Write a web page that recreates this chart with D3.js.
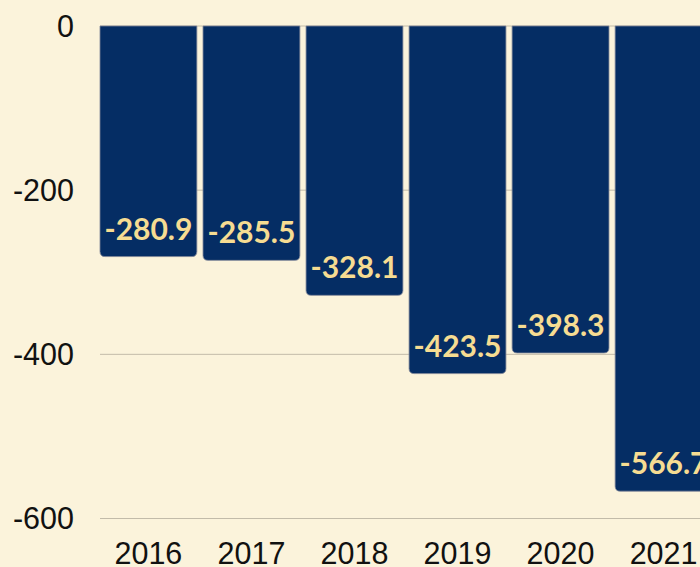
<!DOCTYPE html>
<html lang="en">
<head>
    <meta charset="UTF-8">
    <title>Bar chart</title>
    <script src="https://cdn.jsdelivr.net/npm/d3@7"></script>
    <style>
        html, body { margin: 0; padding: 0; background: #FBF3DB; overflow: hidden; }
        #chart svg { display: block; }
    </style>
</head>
<body>
    <div id="chart"></div>
    <script>
        // data
        const years = ["2016", "2017", "2018", "2019", "2020", "2021"];
        const values = [-280.9, -285.5, -328.1, -423.5, -398.3, -566.7];
        const yTicks = [0, -200, -400, -600];

        const width = 700, height = 567;

        const svg = d3.select("#chart")
            .append("svg")
            .attr("width", width)
            .attr("height", height);

        svg.append("rect")
            .attr("width", width)
            .attr("height", height)
            .attr("fill", "#FBF3DB");

        const x = d3.scaleBand()
            .domain(years)
            .range([100, 712])
            .paddingInner(0.06)
            .paddingOuter(0);

        const y = d3.scaleLinear()
            .domain([-600, 0])
            .range([518.5, 26]);

        // gridlines
        svg.selectAll("line.grid")
            .data(yTicks)
            .enter()
            .append("line")
            .attr("class", "grid")
            .attr("x1", 100)
            .attr("x2", width)
            .attr("y1", d => y(d))
            .attr("y2", d => y(d))
            .attr("stroke", "#C2BBA9")
            .attr("stroke-width", 1);

        // y tick labels
        svg.selectAll("text.ytick")
            .data(yTicks)
            .enter()
            .append("text")
            .attr("class", "ytick")
            .attr("x", 74)
            .attr("y", d => y(d))
            .attr("dy", "0.36em")
            .attr("text-anchor", "end")
            .style("font-family", "'Liberation Sans', Arial, sans-serif")
            .style("font-size", "30.5px")
            .attr("fill", "#111")
            .text(d => d);

        // bars with rounded bottom corners
        const r = 5;
        function barPath(d, i) {
            const x0 = x(years[i]), x1 = x0 + x.bandwidth();
            const top = y(0), bot = y(d);
            return `M${x0},${top}H${x1}V${bot - r}Q${x1},${bot} ${x1 - r},${bot}` +
                   `H${x0 + r}Q${x0},${bot} ${x0},${bot - r}Z`;
        }

        svg.selectAll("path.bar")
            .data(values)
            .enter()
            .append("path")
            .attr("class", "bar")
            .attr("d", barPath)
            .attr("fill", "#052D64")
            .attr("stroke", "#7D8497")
            .attr("stroke-width", 0.8);

        // value labels inside the bars
        svg.selectAll("text.val")
            .data(values)
            .enter()
            .append("text")
            .attr("class", "val")
            .attr("x", (d, i) => x(years[i]) + x.bandwidth() / 2)
            .attr("y", d => y(d) - 17)
            .attr("text-anchor", "middle")
            .style("font-family", "Lato, 'Open Sans', sans-serif")
            .style("font-weight", "700")
            .style("font-size", "30px")
            .attr("fill", "#F6DC92")
            .text(d => d.toFixed(1));

        // x labels
        svg.selectAll("text.xtick")
            .data(years)
            .enter()
            .append("text")
            .attr("class", "xtick")
            .attr("x", d => x(d) + x.bandwidth() / 2)
            .attr("y", 564)
            .attr("text-anchor", "middle")
            .style("font-family", "'Liberation Sans', Arial, sans-serif")
            .style("font-size", "30.5px")
            .attr("fill", "#111")
            .text(d => d);
    </script>
</body>
</html>
